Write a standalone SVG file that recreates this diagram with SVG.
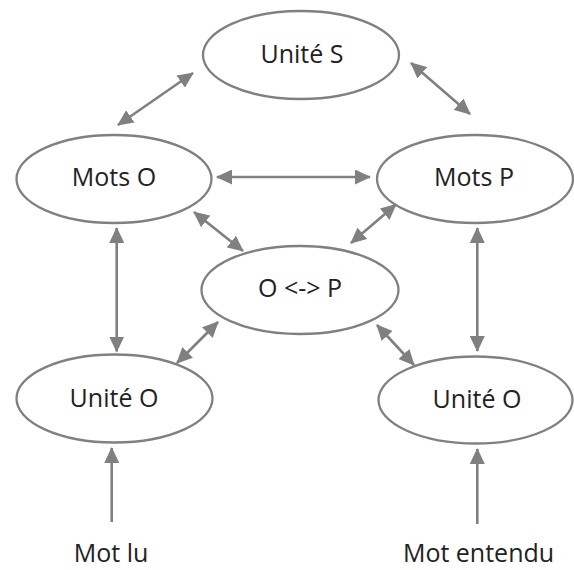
<svg xmlns="http://www.w3.org/2000/svg" width="574" height="570" viewBox="0 0 574 570">
<style>
.node ellipse{fill:#fff;stroke:#808080;stroke-width:2.3}
text{font-family:"Open Sans","Noto Sans","DejaVu Sans",sans-serif;font-size:25px;fill:#222;text-anchor:middle}
.conn line{stroke:#808080;stroke-width:2.6}
.bi{marker-start:url(#ah);marker-end:url(#ah)}
.uni{marker-end:url(#ah)}
</style>
<defs>
<marker id="ah" markerUnits="userSpaceOnUse" markerWidth="16" markerHeight="15" refX="15" refY="7.5" orient="auto-start-reverse" viewBox="0 0 16 15">
<path d="M0,0 L16,7.5 L0,15 z" fill="#808080"/>
</marker>
</defs>
<rect width="574" height="570" fill="#fff"/>
<g id="unite-s" class="node"><ellipse cx="301" cy="55" rx="98" ry="44"/><text x="302" y="63">Unité S</text></g>
<g id="mots-o" class="node"><ellipse cx="114" cy="179" rx="97.5" ry="44"/><text x="114" y="186">Mots O</text></g>
<g id="mots-p" class="node"><ellipse cx="475" cy="179" rx="98" ry="44"/><text x="474" y="186">Mots P</text></g>
<g id="o-p" class="node"><ellipse cx="300" cy="290" rx="98.5" ry="44"/><text x="300" y="297">O &lt;-&gt; P</text></g>
<g id="unite-o-left" class="node"><ellipse cx="114.5" cy="398.5" rx="98" ry="44"/><text x="114" y="407">Unité O</text></g>
<g id="unite-o-right" class="node"><ellipse cx="475.5" cy="400" rx="97" ry="43.5"/><text x="477" y="408">Unité O</text></g>
<g id="mot-lu"><text x="111" y="562">Mot lu</text></g>
<g id="mot-entendu"><text x="478.5" y="562">Mot entendu</text></g>
<g id="connectors" class="conn">
<line class="bi" x1="118" y1="125" x2="193" y2="73"/>
<line class="bi" x1="411" y1="63" x2="470" y2="114"/>
<line class="bi" x1="217" y1="177" x2="370" y2="177"/>
<line class="bi" x1="194" y1="212" x2="243" y2="251"/>
<line class="bi" x1="351" y1="243" x2="396" y2="204.5"/>
<line class="bi" x1="116.7" y1="228" x2="116.7" y2="351.5"/>
<line class="bi" x1="177" y1="363" x2="218" y2="322"/>
<line class="bi" x1="477.3" y1="228" x2="477.3" y2="351"/>
<line class="bi" x1="377" y1="325" x2="414" y2="365"/>
<line class="uni" x1="111.7" y1="522" x2="111.7" y2="448"/>
<line class="uni" x1="477.3" y1="524" x2="477.3" y2="449"/>
</g>
</svg>
